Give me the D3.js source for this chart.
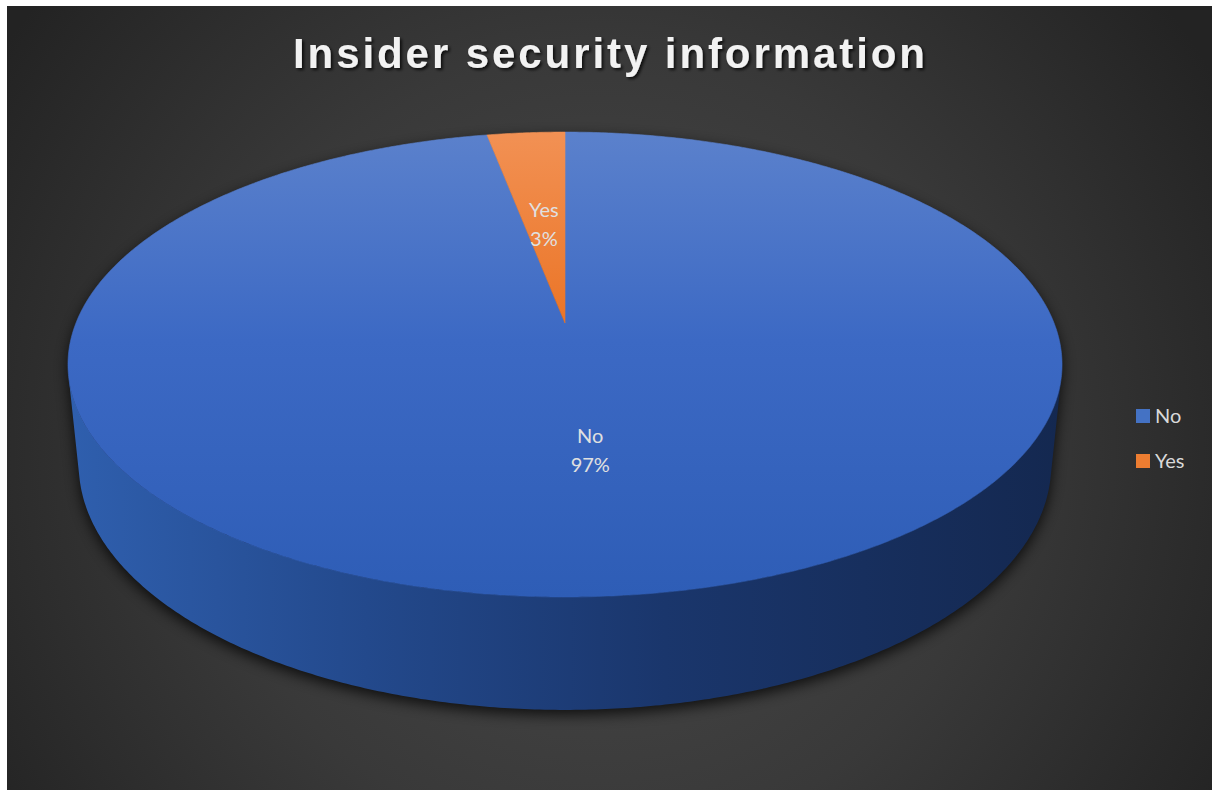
<!DOCTYPE html>
<html>
<head>
<meta charset="utf-8">
<script src="https://cdn.jsdelivr.net/npm/d3@7"></script>
<style>
  html, body { margin: 0; padding: 0; background: #ffffff; }
  svg { display: block; }
</style>
</head>
<body>
<svg id="chart" width="1212" height="791"></svg>
<script>
// Chart data
const title = "Insider security information";
const categories = ["No", "Yes"];
const values = [97, 3];
const legendLabels = ["No", "Yes"];

const W = 1212, H = 791;
const svg = d3.select("#chart");
const defs = svg.append("defs");

// Background panel with soft radial light
const bg = defs.append("radialGradient").attr("id", "bgGrad")
  .attr("gradientUnits", "userSpaceOnUse")
  .attr("cx", 600).attr("cy", 450).attr("r", 720);
bg.append("stop").attr("offset", 0).attr("stop-color", "#4b4b4b");
bg.append("stop").attr("offset", 0.55).attr("stop-color", "#393939");
bg.append("stop").attr("offset", 1).attr("stop-color", "#232323");
svg.append("rect").attr("x", 7).attr("y", 6).attr("width", W - 7).attr("height", H - 7)
  .attr("fill", "url(#bgGrad)");

// Title
const tshadow = defs.append("filter").attr("id", "tshadow")
  .attr("x", "-10%").attr("y", "-30%").attr("width", "120%").attr("height", "160%");
tshadow.append("feDropShadow").attr("dx", 2).attr("dy", 2).attr("stdDeviation", 1.6)
  .attr("flood-color", "#000").attr("flood-opacity", 0.75);
svg.append("text")
  .attr("x", 609).attr("y", 68)
  .attr("text-anchor", "middle")
  .attr("font-family", "'Liberation Sans', Arial, sans-serif")
  .attr("font-weight", "bold")
  .attr("font-size", 42)
  .attr("textLength", 632).attr("lengthAdjust", "spacing")
  .attr("fill", "#f2f2f2")
  .attr("filter", "url(#tshadow)")
  .text(title);

// 3D perspective projection of the pie disc
const cam = { cx: 565, cy: 323, k: 2431, D: 4.971, alpha: 27.4 * Math.PI / 180, h: 0.2328 };
const ca = Math.cos(cam.alpha), sa = Math.sin(cam.alpha);
function project(theta, r, Y) {
  const X = r * Math.sin(theta), Z = r * Math.cos(theta);
  const yc = Y * ca + Z * sa;
  const d = cam.D + Z * ca - Y * sa;
  return [cam.cx + cam.k * X / d, cam.cy - cam.k * yc / d];
}
function arcPoints(a0, a1, r, Y) {
  const n = Math.max(2, Math.ceil(Math.abs(a1 - a0) / (Math.PI / 360)));
  return d3.range(n + 1).map(i => project(a0 + (a1 - a0) * i / n, r, Y));
}

const data = categories.map((c, i) => ({ name: c, value: values[i] }));
const pie = d3.pie().sort(null).value(d => d.value).startAngle(0).endAngle(2 * Math.PI);
const arcs = pie(data);
const total = d3.sum(values);
const pct = d3.format(".0%");

const topColors = {
  No: ["#5b81cc", "#3c69c4", "#2e5db6"],
  Yes: ["#f29154", "#ea7222", "#dc661b"]
};
const legendColors = { No: "#4472c4", Yes: "#ed7d31" };

categories.forEach(c => {
  const g = defs.append("linearGradient").attr("id", "top-" + c)
    .attr("gradientUnits", "userSpaceOnUse").attr("x1", 0).attr("x2", 0).attr("y1", 132).attr("y2", 597);
  topColors[c].forEach((col, i) => g.append("stop").attr("offset", [0, 0.45, 1][i]).attr("stop-color", col));
});
const sideStops = {
  No: ["#2f5fae", "#23498c", "#1a366c", "#142850"],
  Yes: ["#c8651f", "#a85419", "#8a4514", "#733a10"]
};
categories.forEach(c => {
  const g = defs.append("linearGradient").attr("id", "side-" + c)
    .attr("gradientUnits", "userSpaceOnUse").attr("x1", 68).attr("x2", 1062).attr("y1", 0).attr("y2", 0);
  sideStops[c].forEach((col, i) => g.append("stop").attr("offset", [0, 0.3, 0.6, 1][i]).attr("stop-color", col));
});

const line = d3.line();

// Visible part of the cylinder wall
const vis0 = Math.acos(-1 / (cam.D * ca));
const vis1 = 2 * Math.PI - vis0;

// Drop shadow under the whole pie
const pshadow = defs.append("filter").attr("id", "pshadow")
  .attr("x", "-10%").attr("y", "-10%").attr("width", "120%").attr("height", "130%");
pshadow.append("feGaussianBlur").attr("stdDeviation", 7);
const outline = arcPoints(0, vis0, 1, 0)
  .concat(arcPoints(vis0, vis1, 1, -cam.h))
  .concat(arcPoints(vis1, 2 * Math.PI, 1, 0));
svg.append("path")
  .attr("d", line(outline) + "Z")
  .attr("transform", "translate(0,5)")
  .attr("fill", "#000").attr("opacity", 0.75)
  .attr("filter", "url(#pshadow)");

// Side walls
arcs.forEach(a => {
  const lo = Math.max(a.startAngle, vis0), hi = Math.min(a.endAngle, vis1);
  if (hi <= lo) return;
  const pts = arcPoints(lo, hi, 1, 0).concat(arcPoints(hi, lo, 1, -cam.h));
  svg.append("path").attr("d", line(pts) + "Z")
    .attr("fill", `url(#side-${a.data.name})`);
});

// Top faces
arcs.forEach(a => {
  const pts = [project(0, 0, 0)].concat(arcPoints(a.startAngle, a.endAngle, 1, 0));
  svg.append("path").attr("d", line(pts) + "Z")
    .attr("fill", `url(#top-${a.data.name})`)
    .attr("stroke", `url(#top-${a.data.name})`).attr("stroke-width", 0.6);
});

// Data labels
arcs.forEach(a => {
  const mid = (a.startAngle + a.endAngle) / 2;
  const [px, py] = project(mid, 0.5, 0);
  const t = svg.append("text")
    .attr("text-anchor", "middle")
    .attr("font-family", "Lato, 'Open Sans', sans-serif")
    .attr("font-size", 20)
    .attr("fill", "#e0e0e0");
  t.append("tspan").attr("x", px).attr("y", py - 3).text(a.data.name);
  t.append("tspan").attr("x", px).attr("y", py + 26).text(pct(a.data.value / total));
});

// Legend
const legend = svg.append("g");
legendLabels.forEach((lab, i) => {
  const y = 409 + i * 45;
  legend.append("rect").attr("x", 1136).attr("y", y).attr("width", 14).attr("height", 14)
    .attr("fill", legendColors[lab]);
  legend.append("text").attr("x", 1155).attr("y", y + 14)
    .attr("font-family", "Lato, 'Open Sans', sans-serif")
    .attr("font-size", 20).attr("fill", "#d9d9d9")
    .text(lab);
});
</script>
</body>
</html>
